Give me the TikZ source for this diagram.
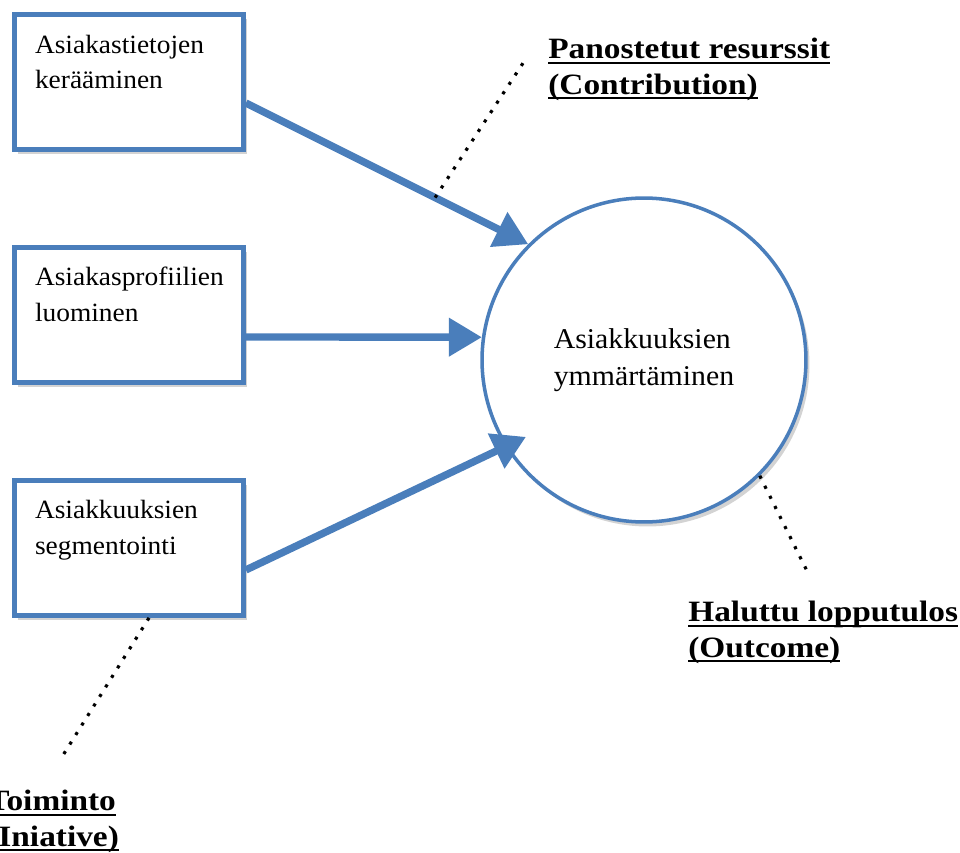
\documentclass[tikz,border=0pt]{standalone}
\usepackage{fontspec}
\setmainfont[FakeStretch=1.04]{Liberation Serif}
\newfontfamily\labfont[FakeStretch=1.13]{Liberation Serif}
\usepackage{tikz}
\usetikzlibrary{shapes.geometric, arrows.meta, shadows}
\definecolor{ublue}{RGB}{74,126,187}
\tikzstyle{stepbox} = [rectangle, draw=ublue, line width=2.8pt, fill=white, text width=3.76cm, align=left, inner xsep=0.41cm, inner ysep=0.3cm, text height=0.47cm, text depth=1.63cm, font=\fontsize{15}{20}\selectfont, drop shadow={shadow xshift=0.07cm, shadow yshift=-0.09cm, opacity=0.35}]
\tikzstyle{goal} = [circle, draw=ublue, line width=2pt, fill=white, minimum size=6.48cm, inner sep=0pt, align=left, font=\fontsize{16.3}{21}\selectfont, drop shadow={shadow xshift=0.07cm, shadow yshift=-0.09cm, opacity=0.35}]
\tikzstyle{arrow} = [ublue, line width=4.2pt, -{Triangle[length=0.66cm, width=0.74cm]}]
\tikzstyle{leader} = [line width=1.8pt, dash pattern=on 1.8pt off 4.6pt]
\tikzstyle{note} = [anchor=base west, align=left, inner sep=0pt, font=\labfont\bfseries\fontsize{16.8}{20}\selectfont]
\newcommand{\ulab}[1]{\setbox0=\hbox{#1}\rlap{\rule[-3pt]{\wd0}{1.2pt}}\box0}

\begin{document}
\begin{tikzpicture}[x=0.02cm, y=-0.02cm, node distance=4.66cm]
		\useasboundingbox (0,0) rectangle (960,852);
		\node (s1) [stepbox] at (129,82) {Asiakastietojen\\kerääminen};
		\node (s2) [stepbox, below of=s1] {Asiakasprofiilien\\luominen};
		\node (s3) [stepbox, below of=s2] {Asiakkuuksien\\segmentointi};
		\node (goal) [goal] at (644,360) {Asiakkuuksien\\ymmärtäminen};
		\draw [arrow] ([yshift=-0.42cm]s1.east) -- coordinate[pos=0.67] (a1) (goal.135);
		\draw [arrow] ([yshift=-0.44cm]s2.east) -- (goal.172);
		\draw [arrow, shorten >=-0.46cm] ([yshift=-0.44cm]s3.east) -- (goal.212);
		\coordinate (c1) at (527,57);
		\coordinate (c2) at (808,573);
		\coordinate (c3) at (60,760);
		\draw [leader] (a1) -- (c1);
		\draw [leader] (goal.-45) -- (c2);
		\draw [leader] ([xshift=0.4cm]s3.south) -- (c3);
		\node (l1) [note] at (548,94) {\ulab{Panostetut resurssit}\\\ulab{(Contribution)}};
		\node (l2) [note] at (688,657) {\ulab{Haluttu lopputulos}\\\ulab{(Outcome)}};
		\node (l3) [note] at (-13,846) {\ulab{Toiminto}\\\ulab{(Iniative)}};
		\end{tikzpicture}
\end{document}
